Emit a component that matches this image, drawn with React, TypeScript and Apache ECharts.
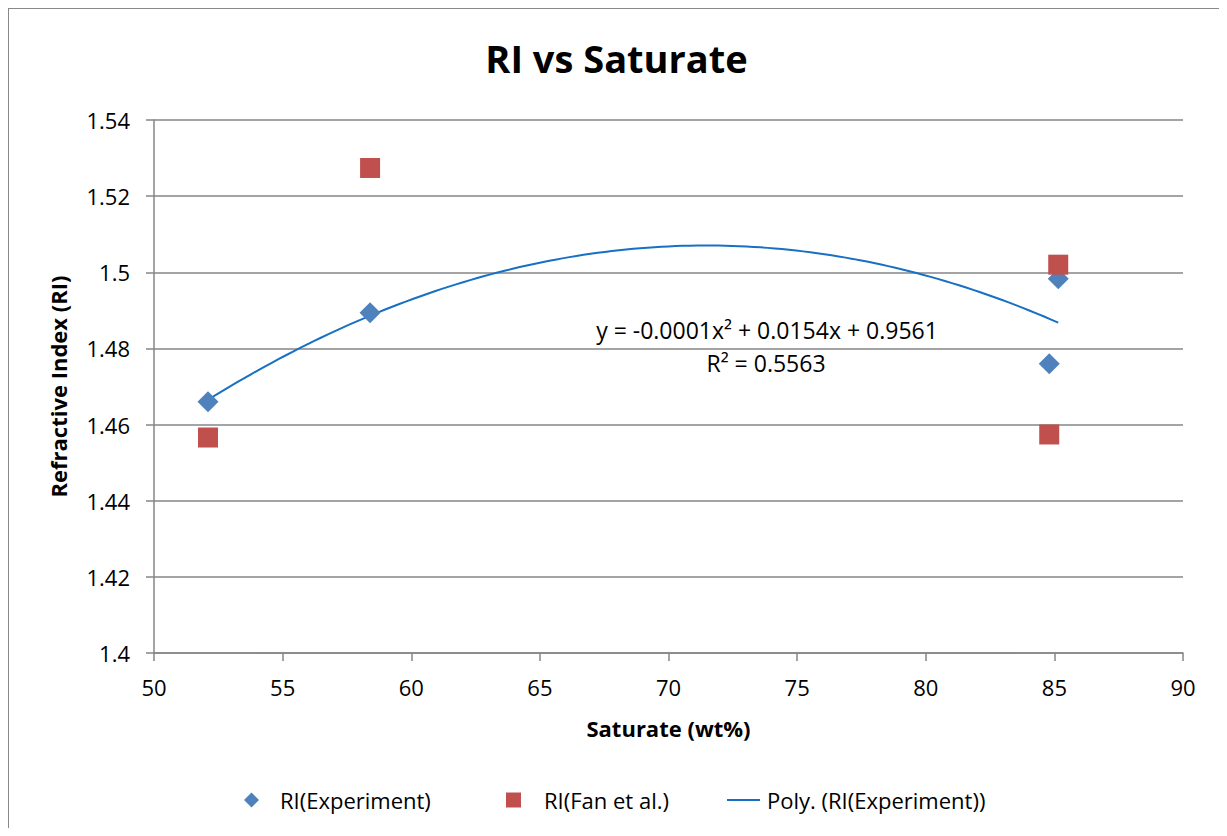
import React, { useEffect, useRef } from "react";
import * as echarts from "echarts";

const title = "RI vs Saturate";
const xAxisName = "Saturate (wt%)";
const yAxisName = "Refractive Index (RI)";
const seriesNames = ["RI(Experiment)", "RI(Fan et al.)", "Poly. (RI(Experiment))"];

const saturate = [52.1, 58.4, 84.8, 85.15];
const riExperiment = [1.466, 1.4894, 1.476, 1.4983];
const saturateFan = [52.1, 58.4, 84.8, 85.15];
const riFan = [1.4566, 1.5274, 1.4574, 1.502];

const equationText = "y = -0.0001x² + 0.0154x + 0.9561";
const r2Text = "R² = 0.5563";

// quadratic least-squares fit of the experiment data (Excel poly trendline)
function fitQuadratic(xs: number[], ys: number[]) {
  const s = [0, 0, 0, 0, 0];
  const t = [0, 0, 0];
  for (let i = 0; i < xs.length; i++) {
    let p = 1;
    for (let k = 0; k < 5; k++) {
      s[k] += p;
      if (k < 3) t[k] += p * ys[i];
      p *= xs[i];
    }
  }
  const m = [
    [s[0], s[1], s[2], t[0]],
    [s[1], s[2], s[3], t[1]],
    [s[2], s[3], s[4], t[2]],
  ];
  for (let i = 0; i < 3; i++) {
    let piv = i;
    for (let r = i + 1; r < 3; r++) if (Math.abs(m[r][i]) > Math.abs(m[piv][i])) piv = r;
    [m[i], m[piv]] = [m[piv], m[i]];
    for (let r = 0; r < 3; r++) {
      if (r === i) continue;
      const f = m[r][i] / m[i][i];
      for (let c = i; c < 4; c++) m[r][c] -= f * m[i][c];
    }
  }
  return { c: m[0][3] / m[0][0], b: m[1][3] / m[1][1], a: m[2][3] / m[2][2] };
}

export default function App() {
  const ref = useRef<HTMLDivElement>(null);
  useEffect(() => {
    if (!ref.current) return;
    const chart = echarts.init(ref.current, undefined, { renderer: "svg" });
    const { a, b, c } = fitQuadratic(saturate, riExperiment);
    const xMin = Math.min(...saturate);
    const xMax = Math.max(...saturate);
    const trend: number[][] = [];
    const n = 120;
    for (let i = 0; i <= n; i++) {
      const x = xMin + ((xMax - xMin) * i) / n;
      trend.push([x, a * x * x + b * x + c]);
    }
    const font = "'Open Sans', Lato, sans-serif";
    const axisColor = "#868686";
    const lineColor = "#1870C4";
    const legendText = { fontFamily: font, fontSize: 22, color: "#000" };
    chart.setOption({
      animation: false,
      textStyle: { fontFamily: font },
      title: {
        text: title,
        left: "center",
        top: 25,
        textStyle: { fontFamily: font, fontSize: 38, fontWeight: "bold", color: "#000" },
      },
      grid: { left: 145, top: 111, width: 1029, height: 533 },
      xAxis: {
        type: "value",
        min: 50,
        max: 90,
        interval: 5,
        name: xAxisName,
        nameLocation: "middle",
        nameGap: 64,
        nameTextStyle: { fontFamily: font, fontSize: 22, fontWeight: "bold", color: "#000" },
        axisLine: { show: true, lineStyle: { color: axisColor, width: 1.5 } },
        axisTick: { show: true, inside: false, length: 8, lineStyle: { color: axisColor, width: 1.5 } },
        axisLabel: { fontFamily: font, fontSize: 22, color: "#000", margin: 23 },
        splitLine: { show: false },
      },
      yAxis: {
        type: "value",
        min: 1.4,
        max: 1.54,
        interval: 0.02,
        name: yAxisName,
        nameLocation: "middle",
        nameRotate: 90,
        nameGap: 85,
        nameTextStyle: { fontFamily: font, fontSize: 22, fontWeight: "bold", color: "#000" },
        axisLine: { show: true, lineStyle: { color: axisColor, width: 1.5 } },
        axisTick: { show: true, inside: false, length: 8, lineStyle: { color: axisColor, width: 1.5 } },
        axisLabel: { fontFamily: font, fontSize: 22, color: "#000", margin: 24 },
        splitLine: { show: true, lineStyle: { color: axisColor, width: 1.5 } },
      },
      legend: [
        {
          data: [{ name: seriesNames[0], icon: "diamond" }],
          left: 235,
          top: 780,
          padding: 0,
          itemWidth: 15,
          itemHeight: 15,
          textStyle: { ...legendText, padding: [0, 0, 0, 16] },
        },
        {
          data: [{ name: seriesNames[1], icon: "rect" }],
          left: 497,
          top: 780,
          padding: 0,
          itemWidth: 15,
          itemHeight: 15,
          textStyle: { ...legendText, padding: [0, 0, 0, 18] },
        },
        {
          data: [{ name: seriesNames[2], icon: "rect" }],
          left: 718,
          top: 780,
          padding: 0,
          itemWidth: 33,
          itemHeight: 2,
          textStyle: { ...legendText, padding: [0, 0, 0, 2] },
        },
      ],
      graphic: [
        {
          type: "text",
          x: 758,
          y: 321,
          style: {
            text: equationText,
            fill: "#000",
            font: `23px ${font}`,
            textAlign: "center",
            textVerticalAlign: "middle",
          },
        },
        {
          type: "text",
          x: 757,
          y: 354,
          style: {
            text: r2Text,
            fill: "#000",
            font: `23px ${font}`,
            textAlign: "center",
            textVerticalAlign: "middle",
          },
        },
      ],
      series: [
        {
          name: seriesNames[2],
          type: "line",
          data: trend,
          symbol: "none",
          smooth: false,
          lineStyle: { color: lineColor, width: 2 },
          itemStyle: { color: lineColor },
          z: 3,
        },
        {
          name: seriesNames[0],
          type: "scatter",
          data: saturate.map((x, i) => [x, riExperiment[i]]),
          symbol: "diamond",
          symbolSize: 21,
          itemStyle: { color: "#4F81BD", opacity: 1 },
          z: 4,
        },
        {
          name: seriesNames[1],
          type: "scatter",
          data: saturateFan.map((x, i) => [x, riFan[i]]),
          symbol: "rect",
          symbolSize: 20,
          itemStyle: { color: "#C0504D", opacity: 1 },
          z: 5,
        },
      ],
    });
    return () => chart.dispose();
  }, []);
  return (
    <div
      style={{
        width: 1217,
        height: 820,
        boxSizing: "border-box",
        borderTop: "1px solid #888",
        borderLeft: "1px solid #888",
        borderRight: "1px solid #888",
        background: "#fff",
      }}
    >
      <div ref={ref} style={{ width: 1215, height: 819 }} />
    </div>
  );
}
